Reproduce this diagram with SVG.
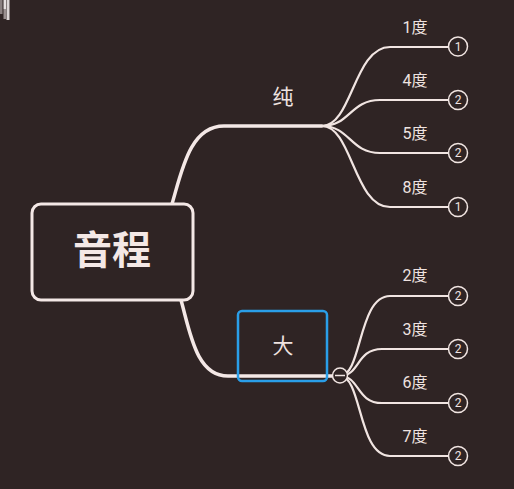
<svg xmlns="http://www.w3.org/2000/svg" width="514" height="489" viewBox="0 0 514 489">
<style>
.bg{fill:#2f2424}
.main{fill:none;stroke:#f4e8e6;stroke-width:3.5;stroke-linecap:round}
.leafline{fill:none;stroke:#f1e5e2;stroke-width:2.2}
.badge{fill:#2f2424;stroke:#f1e5e2;stroke-width:1.5}
.badgetxt{font-family:Roboto,"Liberation Sans",sans-serif;font-size:12px;fill:#f1e5e2;text-anchor:middle}
.leaftxt{font-family:Roboto,"Noto Sans CJK SC",sans-serif;font-size:16px;fill:#efe3e0;text-anchor:middle}
.subtxt{font-family:"Noto Sans CJK SC",sans-serif;font-size:21px;fill:#efe3e0;text-anchor:middle}
.roottxt{font-family:"Noto Sans CJK SC",sans-serif;font-size:39px;font-weight:bold;fill:#f4e8e6;text-anchor:middle}
</style>
<rect class="bg" x="0" y="0" width="514" height="489"/>
<g id="artifact">
<rect x="0" y="0" width="2.5" height="14" fill="#8a8080"/>
<rect x="3.5" y="0" width="2.5" height="9" fill="#e6e0e0"/>
<rect x="3.5" y="9" width="2.5" height="10" fill="#9a9090"/>
<rect x="6.5" y="0" width="3" height="20" fill="#dcd6d6"/>
</g>
<g id="connectors">
<path class="main" d="M172,204 C182,170 190,126 224,126 H322"/>
<path class="main" d="M181,300 C190,332 196,376 228,376 H338"/>
<path class="leafline" d="M322,126 C352,126 354,47 390,47 H448"/>
<path class="leafline" d="M322,126 C350,126 350,100 380,100 H448"/>
<path class="leafline" d="M322,126 C350,126 350,153 380,153 H448"/>
<path class="leafline" d="M322,126 C352,126 354,207 390,207 H448"/>
<path class="leafline" d="M340,376 C362,376 358,296 390,296 H448"/>
<path class="leafline" d="M340,376 C360,376 356,349 382,349 H448"/>
<path class="leafline" d="M340,376 C360,376 356,403 382,403 H448"/>
<path class="leafline" d="M340,376 C362,376 358,456 390,456 H448"/>
</g>
<g id="root">
<rect x="32" y="204" width="161" height="96" rx="9" fill="#2f2424" stroke="#f4e8e6" stroke-width="3"/>
<text class="roottxt" x="112" y="264">音程</text>
</g>
<g id="pure">
<text class="subtxt" x="283" y="104">纯</text>
</g>
<g id="major">
<rect x="238" y="311" width="89" height="70" rx="4" fill="none" stroke="#2a9ee8" stroke-width="2.5"/>
<text class="subtxt" x="283" y="353">大</text>
<circle cx="340" cy="375.5" r="7.5" fill="#2f2424" stroke="#f1e5e2" stroke-width="1.5"/>
<line x1="335" y1="375.5" x2="345" y2="375.5" stroke="#f1e5e2" stroke-width="1.5"/>
</g>
<g id="leaf1"><text class="leaftxt" x="415" y="33">1度</text><circle class="badge" cx="458" cy="46.5" r="9.5"/><text class="badgetxt" x="458" y="50.8">1</text></g>
<g id="leaf4"><text class="leaftxt" x="415" y="86">4度</text><circle class="badge" cx="458" cy="100" r="9.5"/><text class="badgetxt" x="458" y="104.3">2</text></g>
<g id="leaf5"><text class="leaftxt" x="415" y="139">5度</text><circle class="badge" cx="458" cy="153" r="9.5"/><text class="badgetxt" x="458" y="157.3">2</text></g>
<g id="leaf8"><text class="leaftxt" x="415" y="193">8度</text><circle class="badge" cx="458" cy="207" r="9.5"/><text class="badgetxt" x="458" y="211.3">1</text></g>
<g id="leaf2"><text class="leaftxt" x="415" y="281">2度</text><circle class="badge" cx="458" cy="296" r="9.5"/><text class="badgetxt" x="458" y="300.3">2</text></g>
<g id="leaf3"><text class="leaftxt" x="415" y="335">3度</text><circle class="badge" cx="458" cy="349" r="9.5"/><text class="badgetxt" x="458" y="353.3">2</text></g>
<g id="leaf6"><text class="leaftxt" x="415" y="388">6度</text><circle class="badge" cx="458" cy="403" r="9.5"/><text class="badgetxt" x="458" y="407.3">2</text></g>
<g id="leaf7"><text class="leaftxt" x="415" y="442">7度</text><circle class="badge" cx="458" cy="456" r="9.5"/><text class="badgetxt" x="458" y="460.3">2</text></g>
</svg>
